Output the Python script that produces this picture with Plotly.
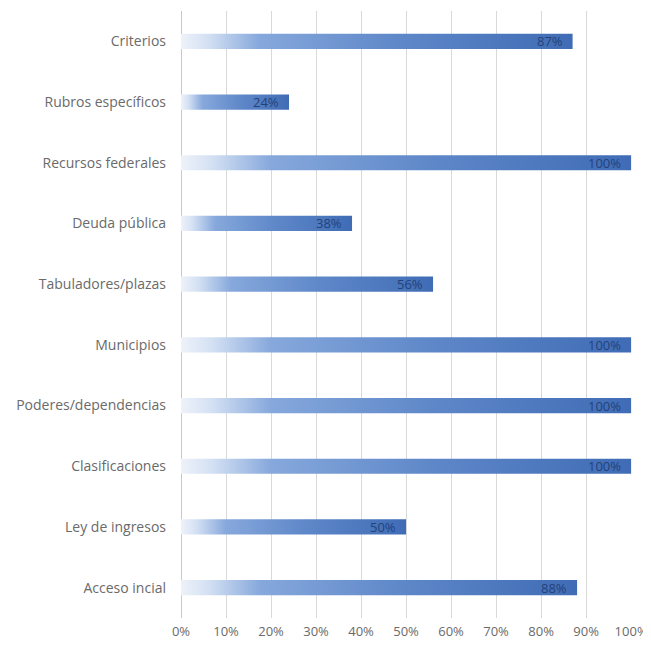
import plotly.graph_objects as go

categories = ['Criterios', 'Rubros específicos', 'Recursos federales', 'Deuda pública',
              'Tabuladores/plazas', 'Municipios', 'Poderes/dependencias',
              'Clasificaciones', 'Ley de ingresos', 'Acceso incial']
values = [87, 24, 100, 38, 56, 100, 100, 100, 50, 88]
tick_vals = [0, 10, 20, 30, 40, 50, 60, 70, 80, 90, 100]
tick_text = [f'{t}%' for t in tick_vals]

grad = [[0, '#eef2f9'], [0.07, '#d3e0f3'], [0.2, '#86a8dc'],
        [0.55, '#5f88c9'], [1, '#3f6cb5']]
half = 0.125

fig = go.Figure()
n = len(categories)
for i, (cat, v) in enumerate(zip(categories, values)):
    y = n - 1 - i
    fig.add_trace(go.Scatter(
        x=[0, v, v, 0, 0], y=[y - half, y - half, y + half, y + half, y - half],
        mode='lines', fill='toself', line=dict(width=0),
        fillgradient=dict(type='horizontal', colorscale=grad),
        hoverinfo='skip', showlegend=False))
    fig.add_annotation(x=v, y=y, text=f'{v}%', showarrow=False,
                       xanchor='right', xshift=-8,
                       font=dict(family='Open Sans', size=13, color='#24427a'))

# the page body has an 8px margin, so the figure is made that much smaller
fig.update_layout(
    width=643, height=640,
    margin=dict(l=173, r=19, t=3, b=30),
    paper_bgcolor='white', plot_bgcolor='white',
    font=dict(family='Open Sans', size=14, color='#6a6a6a'),
    xaxis=dict(range=[0, 100.2], tickvals=tick_vals, ticktext=tick_text,
               showgrid=True, gridcolor='#d9d9d9', gridwidth=1,
               zeroline=True, zerolinecolor='#c8c8c8', zerolinewidth=1,
               showline=False, ticks='', tickfont=dict(size=13),
               ticklabelstandoff=4),
    yaxis=dict(range=[-0.5, n - 0.5], tickvals=[n - 1 - i for i in range(n)],
               ticktext=categories, showgrid=False, zeroline=False,
               ticks='', ticklabelstandoff=14),
)

fig.write_html('out.html')
